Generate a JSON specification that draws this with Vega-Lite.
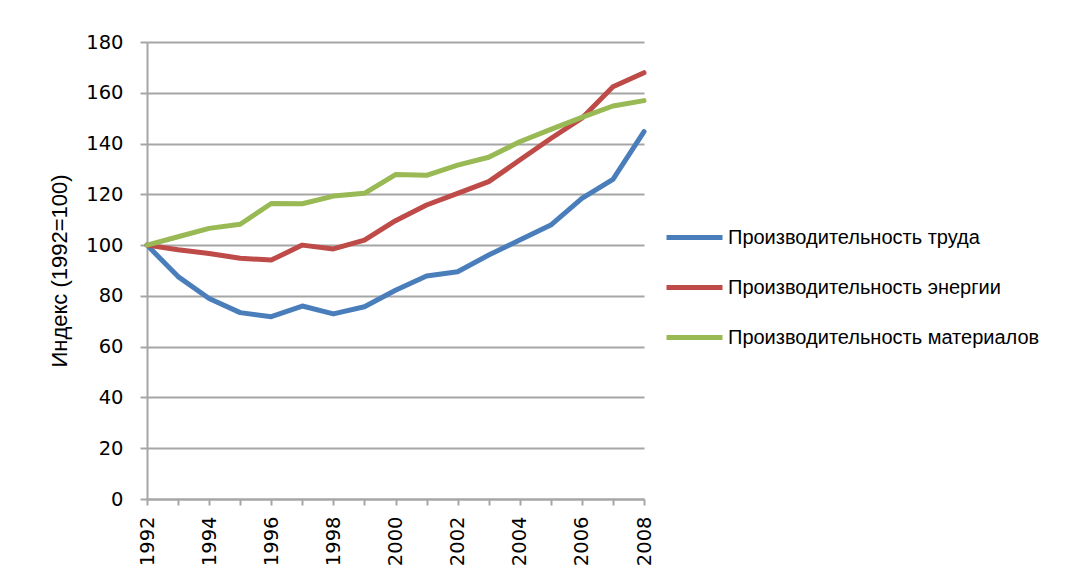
{
  "$schema": "https://vega.github.io/schema/vega-lite/v6.json",
  "autosize": {"type": "none"},
  "width": 497,
  "height": 457,
  "padding": {"left": 147, "top": 42, "right": 438, "bottom": 82},
  "background": "white",
  "config": {
    "view": {"stroke": null},
    "axis": {"labelFont": "DejaVu Sans", "labelFontSize": 19.5, "labelColor": "black", "titleFont": "Liberation Sans", "titleFontSize": 22, "titleFontWeight": "normal", "titleColor": "black", "domainColor": "#a6a6a6", "domainWidth": 2, "tickColor": "#a6a6a6", "tickWidth": 2, "gridColor": "#a6a6a6", "gridWidth": 2}
  },
  "data": {"values": [
    {"year": 1992, "series": "Производительность труда", "value": 100},
    {"year": 1993, "series": "Производительность труда", "value": 87.6},
    {"year": 1994, "series": "Производительность труда", "value": 79},
    {"year": 1995, "series": "Производительность труда", "value": 73.4},
    {"year": 1996, "series": "Производительность труда", "value": 71.8},
    {"year": 1997, "series": "Производительность труда", "value": 76},
    {"year": 1998, "series": "Производительность труда", "value": 72.9},
    {"year": 1999, "series": "Производительность труда", "value": 75.7},
    {"year": 2000, "series": "Производительность труда", "value": 82.2},
    {"year": 2001, "series": "Производительность труда", "value": 87.8},
    {"year": 2002, "series": "Производительность труда", "value": 89.5},
    {"year": 2003, "series": "Производительность труда", "value": 96.1},
    {"year": 2004, "series": "Производительность труда", "value": 102},
    {"year": 2005, "series": "Производительность труда", "value": 107.9},
    {"year": 2006, "series": "Производительность труда", "value": 118.4},
    {"year": 2007, "series": "Производительность труда", "value": 125.9},
    {"year": 2008, "series": "Производительность труда", "value": 144.7},
    {"year": 1992, "series": "Производительность энергии", "value": 100},
    {"year": 1993, "series": "Производительность энергии", "value": 98.2},
    {"year": 1994, "series": "Производительность энергии", "value": 96.7},
    {"year": 1995, "series": "Производительность энергии", "value": 94.8},
    {"year": 1996, "series": "Производительность энергии", "value": 94.1},
    {"year": 1997, "series": "Производительность энергии", "value": 100},
    {"year": 1998, "series": "Производительность энергии", "value": 98.5},
    {"year": 1999, "series": "Производительность энергии", "value": 102},
    {"year": 2000, "series": "Производительность энергии", "value": 109.6},
    {"year": 2001, "series": "Производительность энергии", "value": 115.8},
    {"year": 2002, "series": "Производительность энергии", "value": 120.4},
    {"year": 2003, "series": "Производительность энергии", "value": 125},
    {"year": 2004, "series": "Производительность энергии", "value": 133.5},
    {"year": 2005, "series": "Производительность энергии", "value": 142},
    {"year": 2006, "series": "Производительность энергии", "value": 150},
    {"year": 2007, "series": "Производительность энергии", "value": 162.4},
    {"year": 2008, "series": "Производительность энергии", "value": 167.9},
    {"year": 1992, "series": "Производительность материалов", "value": 100},
    {"year": 1993, "series": "Производительность материалов", "value": 103.3},
    {"year": 1994, "series": "Производительность материалов", "value": 106.6},
    {"year": 1995, "series": "Производительность материалов", "value": 108.2},
    {"year": 1996, "series": "Производительность материалов", "value": 116.4},
    {"year": 1997, "series": "Производительность материалов", "value": 116.3},
    {"year": 1998, "series": "Производительность материалов", "value": 119.3},
    {"year": 1999, "series": "Производительность материалов", "value": 120.4},
    {"year": 2000, "series": "Производительность материалов", "value": 127.8},
    {"year": 2001, "series": "Производительность материалов", "value": 127.5},
    {"year": 2002, "series": "Производительность материалов", "value": 131.5},
    {"year": 2003, "series": "Производительность материалов", "value": 134.6},
    {"year": 2004, "series": "Производительность материалов", "value": 140.7},
    {"year": 2005, "series": "Производительность материалов", "value": 145.6},
    {"year": 2006, "series": "Производительность материалов", "value": 150.3},
    {"year": 2007, "series": "Производительность материалов", "value": 154.8},
    {"year": 2008, "series": "Производительность материалов", "value": 156.9}
  ]},
  "mark": {"type": "line", "strokeWidth": 5, "strokeCap": "round", "strokeJoin": "round"},
  "encoding": {
    "x": {"field": "year", "type": "quantitative", "scale": {"domain": [1992, 2008], "nice": false, "zero": false},
      "axis": {"title": null, "grid": false, "values": [1992,1993,1994,1995,1996,1997,1998,1999,2000,2001,2002,2003,2004,2005,2006,2007,2008], "format": "d", "labelExpr": "datum.value % 2 == 0 ? datum.label : ''", "labelOverlap": false, "labelAngle": -90, "labelAlign": "right", "labelBaseline": "middle", "tickSize": 6, "labelPadding": 11}},
    "y": {"field": "value", "type": "quantitative", "scale": {"domain": [0, 180], "nice": false},
      "axis": {"title": "Индекс (1992=100)", "values": [0,20,40,60,80,100,120,140,160,180], "tickSize": 7, "labelPadding": 17, "titlePadding": 14}},
    "color": {"field": "series", "type": "nominal",
      "scale": {"domain": ["Производительность труда", "Производительность энергии", "Производительность материалов"], "range": ["#4A7EBB", "#BE4B48", "#98B954"]},
      "legend": {"title": null, "orient": "none", "legendX": 517, "legendY": 165, "symbolType": "stroke", "symbolSize": 3136, "symbolStrokeWidth": 5, "labelFont": "Liberation Sans", "labelFontSize": 20, "labelColor": "black", "labelOffset": 3, "rowPadding": 9, "labelLimit": 400}}
  }
}
